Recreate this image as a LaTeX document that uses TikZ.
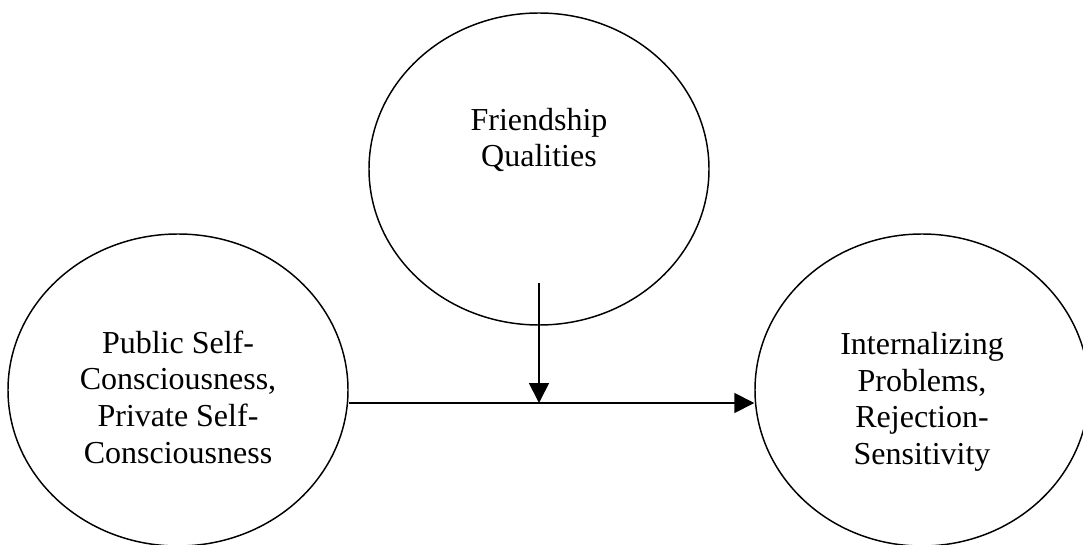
\documentclass[tikz,border=0pt]{standalone}
\usepackage{fontspec}
\setmainfont{Liberation Serif}
\usetikzlibrary{arrows.meta,shapes.geometric}
\begin{document}
\begin{tikzpicture}[x=0.75pt,y=0.75pt,
  construct/.style={draw,ellipse,line width=1.1pt,minimum width=255pt,minimum height=234pt,inner sep=0pt},
  caption/.style={align=center,font=\fontsize{24}{27.5}\selectfont},
  link/.style={line width=1.3pt,-{Triangle[length=15pt,width=15pt]}}]
  \useasboundingbox (0,0) rectangle (1083,544);
  \clip (0,0) rectangle (1083,544);

  % Predictor
  \node[construct] (psc) at (178,154) {};
  \node[caption] (psctext) at (178,147) {Public Self-\\Consciousness,\\Private Self-\\Consciousness};

  % Moderator
  \node[construct] (fq) at (539,375) {};
  \node[caption] (fqtext) at (539,404) {Friendship\\Qualities};

  % Outcome
  \node[construct,minimum width=250.5pt] (ips) at (922,154) {};
  \node[caption] (ipstext) at (922,142) {Internalizing\\Problems,\\Rejection-\\Sensitivity};

  % Paths
  \coordinate (start) at ([yshift=-9.75pt]psc.east);
  \coordinate (end) at ([yshift=-9.75pt]ips.west);
  \coordinate (modtop) at (539,261);
  \coordinate (modend) at (modtop |- start);
  \draw[link] (start) -- (end);
  \draw[link] (modtop) -- (modend);
\end{tikzpicture}
\end{document}
